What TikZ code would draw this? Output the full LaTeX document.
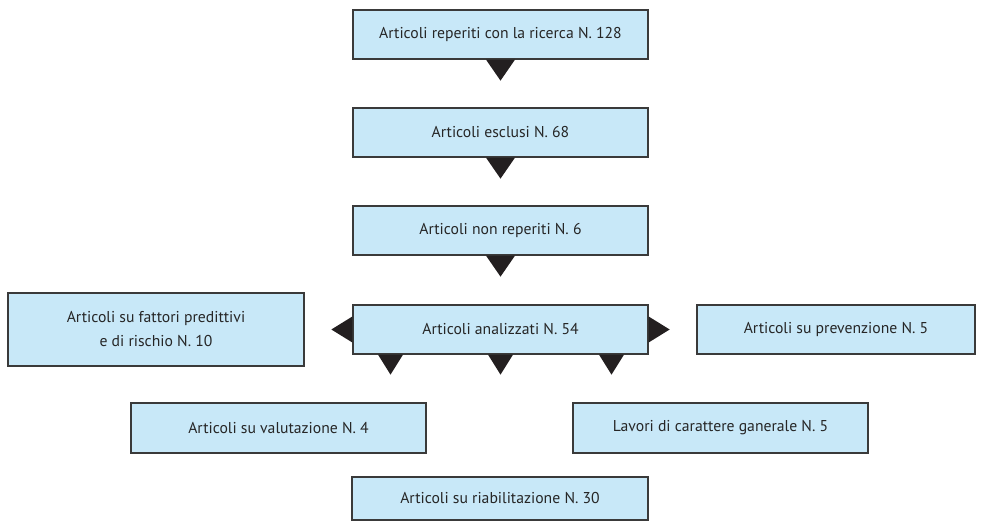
\documentclass[tikz,border=0pt]{standalone}
\usepackage{fontspec}
\setmainfont{PT Sans}
\usetikzlibrary{calc}
\definecolor{boxfill}{HTML}{C8E8F8}
\definecolor{boxline}{HTML}{3A3A3A}
\definecolor{trifill}{HTML}{231F20}
\tikzset{
  box/.style={draw=boxline, line width=1.3pt, fill=boxfill, rectangle,
    inner sep=0pt, align=center, font=\fontsize{15.7}{24}\selectfont, text=black!85},
  tri/.style={fill=trifill},
}
\begin{document}
\begin{tikzpicture}[x=1pt,y=-1pt]
\useasboundingbox (0,0) rectangle (982,521);
\node[box, minimum width=295pt, minimum height=49pt] (r1) at (500.5,34.5) {Articoli reperiti con la ricerca N. 128};
\node[box, minimum width=295pt, minimum height=49pt] (r2) at (500.5,132.5) {Articoli esclusi N. 68};
\node[box, minimum width=295pt, minimum height=49pt] (r3) at (500.5,230.5) {Articoli non reperiti N. 6};
\node[box, minimum width=295pt, minimum height=49pt] (an) at (500.5,329.5) {Articoli analizzati N. 54};
\node[box, minimum width=296pt, minimum height=73pt] (fa) at (156,329.5) {Articoli su fattori predittivi\\e di rischio N. 10};
\node[box, minimum width=278pt, minimum height=49pt] (pr) at (836,329.5) {Articoli su prevenzione N. 5};
\node[box, minimum width=295pt, minimum height=50pt] (va) at (278.5,428) {Articoli su valutazione N. 4};
\node[box, minimum width=295pt, minimum height=50pt] (la) at (720.5,428) {Lavori di carattere ganerale N. 5};
\node[box, minimum width=296pt, minimum height=43pt] (ri) at (500,498.5) {Articoli su riabilitazione N. 30};
% down triangles between main boxes
\foreach \n in {r1,r2,r3}{
  \fill[tri] ($(\n.south)+(-14.5,0)$) -- ($(\n.south)+(14.5,0)$) -- ($(\n.south)+(0,21)$) -- cycle;
}
% triangles around analizzati
\foreach \dx in {-110,0,111}{
  \fill[tri] ($(an.south)+(\dx-12.5,0)$) -- ($(an.south)+(\dx+12.5,0)$) -- ($(an.south)+(\dx,20)$) -- cycle;
}
\fill[tri] ($(an.west)+(0,-13)$) -- ($(an.west)+(0,13)$) -- ($(an.west)+(-21,0)$) -- cycle;
\fill[tri] ($(an.east)+(0,-13)$) -- ($(an.east)+(0,13)$) -- ($(an.east)+(21,0)$) -- cycle;
\end{tikzpicture}
\end{document}
